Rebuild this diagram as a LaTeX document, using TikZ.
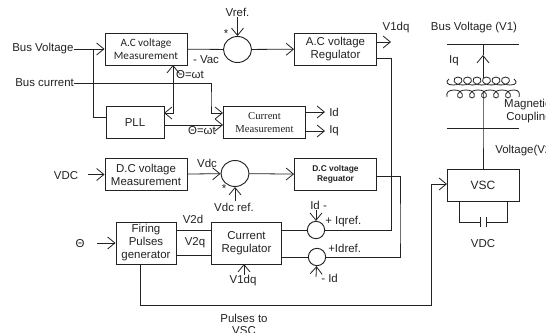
\documentclass[tikz,border=0pt]{standalone}
\usepackage{fontspec}
\setmainfont{Liberation Sans}
\newfontfamily\calfont{Carlito}
\newfontfamily\timesfont{Liberation Serif}
\usetikzlibrary{arrows.meta,positioning,shapes.geometric,calc}
\definecolor{ink}{HTML}{222222}
\newcommand{\coilup}[2]{\draw[wire] (#1-5,#2+8) .. controls (#1+6,#2+8) and (#1+6,#2) .. (#1,#2) .. controls (#1-6,#2) and (#1-6,#2+8) .. (#1+5,#2+8);}
\newcommand{\coildown}[2]{\draw[wire] (#1-6,#2-8) .. controls (#1+4,#2-8) and (#1+4,#2) .. (#1,#2) .. controls (#1-4,#2) and (#1-4,#2-8) .. (#1+6,#2-8);}

\begin{document}
\begin{tikzpicture}[x=0.75pt, y=-0.75pt, every node/.style={font=\fontsize{8.6}{9.75}\selectfont, inner sep=0pt, text=ink},
  wire/.style={draw=ink, line width=0.6pt},
  arr/.style={wire, -{Straight Barb[length=5.5pt, width=9pt]}},
  box/.style={draw=ink, line width=0.7pt, minimum width=61.5pt, minimum height=24pt, align=center},
  sumnode/.style={ellipse, draw=ink, line width=0.7pt, minimum width=21pt, minimum height=19.5pt},
  smallsum/.style={ellipse, draw=ink, line width=0.7pt, minimum width=13pt, minimum height=13pt},
  txt/.style={align=center}]
\useasboundingbox (0,0) rectangle (546,332);
% control blocks
\node[box, font=\calfont\fontsize{8.4}{9.75}\selectfont] (acm) at (146,49) {A.C voltage\\Measurement};
\node[box, minimum width=43.5pt, minimum height=23.5pt] (pll) at (135,122.5) {PLL};
\node[box, minimum height=23.5pt, font=\timesfont\fontsize{8}{9.75}\selectfont] (cur) at (264.5,122.5) {Current\\Measurement};
\node[box] (acr) at (335.5,49) {A.C voltage\\Regulator};
\node[box] (dcm) at (146,174.5) {D.C voltage\\Measurement};
\node[box, font=\bfseries\fontsize{6.3}{7.7}\selectfont] (dcr) at (335.5,174.5) {D.C voltage\\Reguator};
\node[box, minimum width=45pt, minimum height=31.5pt] (fpg) at (146,243) {Firing\\Pulses\\generator};
\node[box, minimum width=53pt, minimum height=31.5pt] (crg) at (246.5,243) {Current\\Regulator};
\node[box, minimum width=54pt, minimum height=24pt, font=\fontsize{9}{11}\selectfont] (vsc) at (483,185) {VSC};
% summing points
\node[sumnode] (sac) at (237.5,49.5) {};
\node[sumnode] (sdc) at (235,173.5) {};
\node[smallsum] (siq) at (316,230) {};
\node[smallsum] (sid) at (317,257) {};
% labels
\node (busv) [anchor=west] at (12,49) {Bus Voltage};
\node (busi) [anchor=west] at (15,83) {Bus current};
\node (vdcin) at (66,176) {VDC};
\node (thin) at (80,244) {Θ};
\node (vref) at (237.5,12) {Vref.};
\node (star1) at (226,34) {*};
\node (vac) at (206,60) {- Vac};
\node (th1) at (190,75) {Θ=ωt};
\node (th2) at (202,131) {Θ=ωt};
\node (v1dq) at (396,28) {V1dq};
\node (idl) [anchor=west] at (329,112) {Id};
\node (iql) [anchor=west] at (329,131) {Iq};
\node (vdcl) at (207,163) {Vdc};
\node (star2) at (224,189) {*};
\node (vdcref) at (234,207) {Vdc ref.};
\node (v2d) at (193,219) {V2d};
\node (v2q) at (195,243) {V2q};
\node (v1dq2) at (243,281) {V1dq};
\node (idm) [anchor=west] at (310,205) {Id -};
\node (iqref) [anchor=west] at (325,222) {+ Iqref.};
\node (idref) [anchor=west] at (328,248) {+Idref.};
\node (idb) [anchor=west] at (321,278) {- Id};
\node (pulses) [txt, font=\fontsize{8.6}{9}\selectfont, anchor=north] at (244,313.5) {Pulses to\\VSC};
\node (busv1) at (474,28) {Bus Voltage (V1)};
\node (iqr) at (454,61) {Iq};
\node (mag) [txt, anchor=west] at (503,111.5) {Magnetic\\\ Coupling};
\node (volt2) [anchor=west] at (495,151) {Voltage(V2)};
\node (vdcr) at (483,244) {VDC};
% free ends and bends
\coordinate (jv) at (93,49);
\coordinate (pllin) at (106,117);
\coordinate (turnc) at (211,100);
\coordinate (curin1) at (223,113);
\coordinate (curin2) at (223,125);
\coordinate (pllio) at (164,113);
\coordinate (acmup) at (173,65);
\coordinate (pllout) at (164,125);
\coordinate (idend) at (325,112);
\coordinate (iqend) at (325,131);
\coordinate (v1end) at (391,42);
\coordinate (acrout) at (377,58);
\coordinate (dcrout) at (377,176);
\coordinate (vdcst) at (88,174.5);
\coordinate (thst) at (97,243);
\coordinate (fpgup) at (176,230);
\coordinate (fpglo) at (176,255);
\coordinate (crgin) at (244,264);
\coordinate (crgst) at (244,275);
\coordinate (fpgdown) at (140,264);
\coordinate (low) at (431,305);
\coordinate (vscin) at (447,184);
\coordinate (idmst) at (316,210);
\coordinate (idbst) at (316,277);
\coordinate (vrefst) at (237.5,17);
\coordinate (dcrefst) at (235,201);
% connectors
\draw[arr] (busv.east) -- (acm);
\draw[wire] (jv) |- (pllin);
\draw[arr] (busi.east) -| (turnc) |- (curin1);
\draw[arr] (pllout) -- (curin2);
\draw[arr, {Straight Barb[length=5.5pt, width=9pt]}-{Straight Barb[length=5.5pt, width=9pt]}] (acmup) -- (acmup |- pllio) -- (pllio);
\draw[wire] (acm) -- (sac);
\draw[arr] (sac) -- (acr);
\draw[arr] (vrefst) -- (sac);
\draw[arr] (acrout |- v1end) -- (v1end);
\draw[wire] (acrout) -| (v1end |- siq) -- (siq);
\draw[arr] (cur.east |- idend) -- (idend);
\draw[arr] (cur.east |- iqend) -- (iqend);
\draw[arr] (vdcst) -- (dcm);
\draw[arr] (dcm) -- (sdc);
\draw[arr] (dcrefst) -- (sdc);
\draw[arr] (sdc) -- (dcr);
\draw[wire] (dcrout) -| (400,230) |- (sid);
\draw[arr] (thst) -- (fpg.west |- thst);
\draw[wire] (fpgup) -- (crg.west |- fpgup);
\draw[wire] (fpglo) -- (crg.west |- fpglo);
\draw[arr] (crgst) -- (crgin);
\draw[wire] (crg.east |- siq) -- (siq);
\draw[wire] (crg.east |- sid) -- (sid);
\draw[arr] (idmst) -- (siq);
\draw[arr] (idbst) -- (sid);
\draw[arr] (fpgdown) |- (low) |- (vscin);
% transformer and bus bars
\coordinate (bar1) at (483,44);
\coordinate (bar2) at (483,128);
\draw[wire] (447,44) -- (519,44);
\draw[wire] (447,128) -- (519,128);
\draw[arr] (483,78) -- (483,55);
\draw[wire] (483,55) -- (bar1);
\draw[wire] (483,92) -- (bar2) -- (vsc.north);
\foreach \cx in {458,467.5,477,486.5,496,505.5} {\coilup{\cx}{77}}
\draw[wire] (453,85) .. controls (447,85) and (445,82) .. (449,79);
\draw[wire] (510.5,85) .. controls (516,85) and (518,82) .. (514,79);
\foreach \cx in {460,472,484,496,508} {\coildown{\cx}{98}}
\draw[wire] (454,90) .. controls (448,90) and (446,93) .. (447,97);
\draw[wire] (514,90) .. controls (519,90) and (520,93) .. (519,97);
% capacitor
\coordinate (capl) at (480,222);
\coordinate (capr) at (486,222);
\draw[wire] (459,201) |- (capl);
\draw[wire] (507,201) |- (capr);
\draw[wire] (480,217) -- (480,227);
\draw[wire] (486,217) -- (486,227);
\end{tikzpicture}
\end{document}
